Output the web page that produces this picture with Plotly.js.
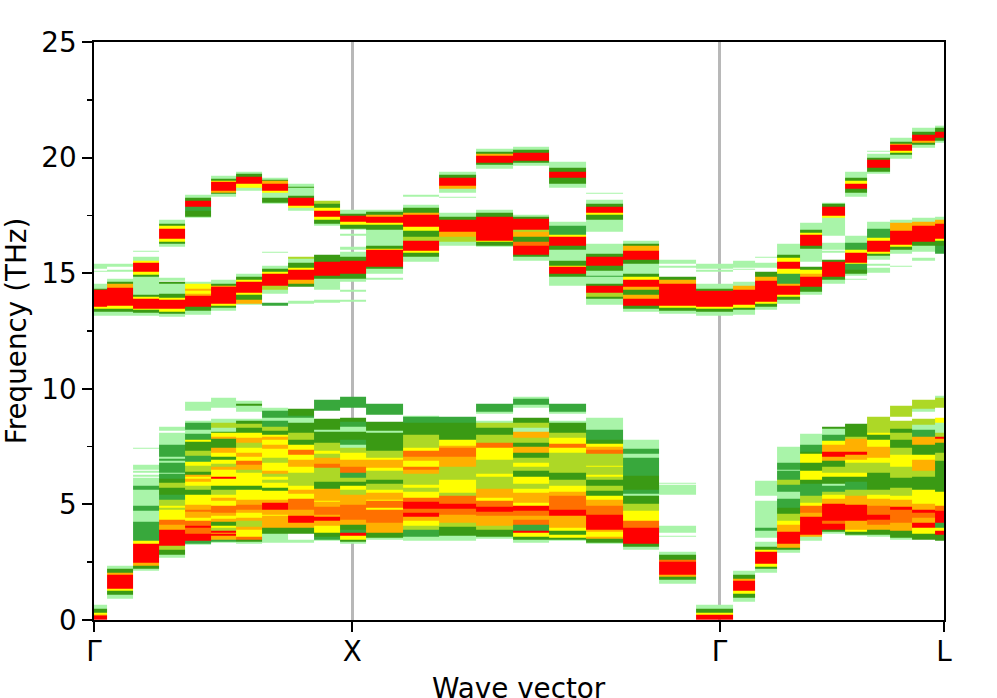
<!DOCTYPE html>
<html>
<head>
<meta charset="utf-8">
<script src="https://cdn.plot.ly/plotly-3.0.1.min.js"></script>
<style>body{margin:0;background:#fff}</style>
</head>
<body>
<div id="chart" style="width:997px;height:698px"></div>
<script>
// weight classes of the unfolded bands, weakest to strongest
const _ = null, L = 1, G = 2, D = 3, O = 4, Y = 5, A = 6, N = 7, R = 8;
const levelColors = ['#a9f4a9', '#38a83c', '#3a9a14', '#add826', '#ffff00', '#ffb000', '#ff7000', '#ff0000'];

// edges of the q-point columns along the path
const qEdges = [-0.05, 0.05, 0.15, 0.25, 0.35, 0.45, 0.55, 0.65, 0.75, 0.85, 0.95, 1.05,
  1.1918, 1.3332, 1.4746, 1.616, 1.7575, 1.8989, 2.0403, 2.1817, 2.3231, 2.4645,
  2.5512, 2.6378, 2.7244, 2.811, 2.8976, 2.9842, 3.0708, 3.1574, 3.244, 3.3306];
const tickPos = [0, 0.997, 2.4142, 3.2802];
const tickText = ['Γ', 'X', 'Γ', 'L'];

// each column: frequency, class, frequency, class ... from top to bottom (THz)
const col00 = [15.42,L,15.19,_,15.13,L,15.06,_,14.55,L,14.34,D,14.27,R,13.55,Y,13.48,D,13.33,L,13.16,_,0.66,L,0.5,D,0.32,Y,0.24,N,0.17,R,0];
const col01 = [15.42,L,15.3,_,15.16,L,15.06,_,14.77,L,14.63,D,14.53,A,14.38,R,13.58,Y,13.48,D,13.33,L,13.16,_,2.34,L,2.2,D,2.03,A,1.95,R,1.34,Y,1.28,D,1.08,L,0.93];
const col02 = [15.99,L,15.92,_,15.7,L,15.56,D,15.52,Y,15.45,R,15.06,Y,14.94,D,14.84,L,14.05,D,13.98,Y,13.91,R,13.48,Y,13.41,D,13.29,L,13.15,_,7.46,L,7.39,_,6.72,L,6.5,_,6.47,L,6.39,_,6.29,L,6.22,_,6.15,L,5.83,G,5.62,L,4.93,G,4.74,L,4.57,_,4.54,L,4.25,G,3.45,Y,3.28,R,2.46,A,2.37,D,2.24,L,2.14];
const col03 = [17.31,L,17.14,D,17.05,Y,16.93,R,16.49,Y,16.35,D,16.28,L,16.13,_,14.81,L,14.67,_,14.63,D,14.56,L,14.1,D,13.96,Y,13.86,R,13.45,Y,13.33,D,13.23,L,13.12,_,8.38,L,8.2,_,8.09,L,7.59,G,7.05,L,6.99,G,6.87,L,6.82,G,6.39,L,6.34,G,6.12,D,5.96,O,5.73,D,5.4,G,5.19,O,4.96,Y,4.85,O,4.78,Y,4.61,Y,4.35,N,4.14,A,3.89,R,3.2,O,3.06,D,2.84,L,2.7];
const col04 = [18.39,L,18.26,D,18.12,R,17.89,G,17.72,D,17.46,L,17.39,_,14.63,L,14.53,Y,14.34,A,14.25,Y,14.1,A,14.01,R,13.55,D,13.38,L,13.2,_,9.45,L,9.07,_,8.63,L,8.52,G,8.23,L,8.06,G,7.8,Y,7.73,D,7.34,O,7.11,G,6.84,Y,6.68,O,6.42,D,6.29,A,6.22,Y,6.1,A,6.0,Y,5.82,O,5.65,D,5.43,Y,5,A,4.78,N,4.67,A,4.43,Y,4.28,N,4.07,R,4,N,3.75,R,3.42,G,3.32,L,3.25];
const col05 = [19.2,L,19.08,D,19.01,Y,18.94,R,18.58,A,18.49,D,18.43,L,18.33,_,14.73,L,14.55,D,14.47,A,14.41,R,13.69,Y,13.6,D,13.5,L,13.36,_,9.6,L,9.17,_,8.69,L,8.55,O,8.33,L,8.16,D,8.09,Y,7.92,A,7.83,D,7.44,A,7.23,Y,7.05,D,6.94,Y,6.75,O,6.62,A,6.48,Y,6.22,R,6.12,Y,5.79,D,5.65,O,5.43,Y,5.29,A,5.14,Y,4.93,N,4.64,A,4.53,Y,4.38,A,4.24,D,4.1,Y,4,O,3.85,R,3.78,A,3.72,R,3.64,A,3.47,G,3.4,L,3.33];
const col06 = [19.41,L,19.3,D,19.18,R,18.87,Y,18.72,L,18.55,_,14.99,L,14.84,D,14.73,Y,14.63,R,14.15,Y,14.05,D,13.84,A,13.67,L,13.62,_,9.5,L,9.35,D,9.27,L,9,_,8.69,L,8.6,D,8.48,O,8.3,D,8.09,Y,7.87,A,7.66,O,7.44,Y,7.23,A,7.05,Y,6.87,N,6.72,A,6.51,O,6.36,Y,5.79,D,5.65,Y,5.22,A,5,N,4.78,A,4.64,Y,4.43,A,4.28,O,4.02,A,3.92,Y,3.6,N,3.46,D,3.39,L,3.32];
const col07 = [19.15,L,19.03,D,18.98,A,18.89,R,18.58,Y,18.49,L,18.25,D,18.03,L,18,_,15.95,L,15.88,_,15.33,L,15.2,D,15.06,Y,14.96,R,14.44,O,14.27,L,14.12,_,13.72,G,13.6,_,9.17,L,9.07,G,8.74,L,8.62,G,8.38,O,8.2,D,8.02,Y,7.92,A,7.8,Y,7.59,A,7.41,Y,7,O,6.8,Y,6.44,A,6.34,O,6.19,Y,6.08,O,5.93,Y,5.72,D,5.6,Y,5.22,A,5.07,R,4.78,A,4.57,Y,4.5,A,3.99,D,3.75,L,3.52,_,3.5,L,3.33];
const col08 = [18.89,L,18.75,D,18.69,L,18.36,D,18.25,R,17.93,Y,17.82,L,17.72,_,15.72,O,15.62,L,15.47,D,15.26,Y,15.16,R,14.73,A,14.55,D,14.41,_,13.79,L,13.69,_,9.14,D,8.84,G,8.74,L,8.55,D,8.09,O,7.8,D,7.59,Y,7.37,N,7.16,Y,6.94,A,6.62,Y,6.36,O,5.82,Y,5.65,A,5.45,Y,5.24,N,4.78,A,4.5,R,4.21,A,3.99,D,3.75,_,3.46,L,3.35];
const col09 = [18.15,O,18,D,17.85,Y,17.72,R,17.43,Y,17.31,D,17.14,L,17.04,_,15.8,D,15.49,R,14.91,D,14.77,L,14.27,_,13.84,L,13.74,_,9.53,G,9.07,_,8.69,D,8.23,L,8.16,D,7.66,O,7.34,Y,7.2,O,7.01,A,6.77,N,6.58,O,6,D,5.68,A,5.16,Y,5.1,A,4.9,N,4.57,A,4.47,R,4.28,A,4.07,Y,3.78,D,3.6,G,3.49,L,3.45];
const col10 = [17.74,L,17.57,D,17.5,R,17.24,Y,17.11,D,16.93,L,16.9,_,16.71,L,16.64,_,16.13,L,16.03,_,15.92,L,15.7,D,15.56,R,14.96,D,14.77,L,14.63,_,14.3,L,14.2,_,13.84,L,13.75,_,9.64,G,9.17,_,8.74,D,8.59,G,8.38,L,8.16,D,7.8,G,7.59,L,7.44,O,7.23,Y,6.94,A,6.65,N,6.39,G,6.15,O,5.97,D,5.79,Y,5.65,O,5.43,A,5,N,4.35,A,4.14,D,3.92,G,3.78,R,3.64,Y,3.49,D,3.38,L,3.32];
const col11 = [17.74,L,17.64,D,17.54,A,17.46,R,17.17,Y,17.1,D,16.9,L,16.21,D,16.06,Y,16.03,R,15.3,D,15.2,L,14.99,_,14.81,L,14.74,_,9.35,G,8.88,_,8.56,D,8.19,L,8.09,D,7.34,O,7.01,Y,6.94,A,6.58,Y,6.44,O,6.08,D,5.89,O,5.65,Y,5.5,A,5.22,Y,5.14,N,4.86,Y,4.76,N,4.5,N,4.21,A,3.78,D,3.56,L,3.46];
const col12 = [18.38,L,18.3,_,17.95,L,17.83,D,17.62,A,17.54,R,17,Y,16.85,D,16.59,O,16.42,R,15.99,Y,15.89,D,15.7,L,15.49,_,8.84,L,8.78,G,8.52,D,8.02,O,7.44,Y,7.34,N,7.05,A,6.87,Y,6.62,N,6.51,A,6.34,O,5.86,Y,5.72,O,5.57,Y,5.29,N,5.11,R,4.81,N,4.64,R,4.47,A,4.28,Y,4.07,O,3.92,G,3.61,L,3.45];
const col13 = [19.37,L,19.25,D,19.15,R,18.79,A,18.65,L,18.48,_,18.33,L,18.25,_,17.62,L,17.46,D,17.31,R,16.78,A,16.57,O,16.35,L,16.18,_,8.81,G,8.52,D,7.8,Y,7.56,A,7.44,N,7.05,A,6.65,O,6.08,Y,5.5,O,5.36,N,5.04,R,4.81,N,4.57,A,4.21,O,4.04,D,3.66,L,3.45];
const col14 = [20.37,L,20.27,D,20.16,A,20.09,R,19.8,D,19.68,L,19.51,_,17.76,L,17.62,D,17.46,R,16.42,Y,16.35,D,16.21,L,16.14,_,9.35,G,9.02,L,8.91,_,8.63,L,8.52,O,8.3,D,8.02,O,7.66,N,7.44,Y,6.94,O,6.34,Y,6.19,O,5.68,A,5.29,Y,5.14,N,4.9,R,4.67,N,4.5,A,4.07,O,3.92,D,3.6,L,3.5];
const col15 = [20.49,L,20.34,D,20.23,R,19.87,D,19.76,L,19.63,_,17.53,L,17.43,D,17.34,R,16.88,O,16.78,A,16.59,D,16.35,N,16.21,R,15.82,D,15.7,L,15.56,_,9.64,L,9.57,G,9.31,L,9.2,_,8.74,D,8.52,O,8.33,L,8.16,A,7.87,O,7.66,D,7.51,A,7.23,D,7.01,O,6.8,Y,6.65,O,6.44,D,6.22,Y,5.9,O,5.68,Y,5.5,A,5.07,Y,4.93,R,4.71,N,4.5,A,4.35,N,4.11,G,3.85,R,3.78,Y,3.6,D,3.49,L,3.35];
const col16 = [19.84,L,19.55,D,19.41,R,19.11,D,18.89,L,18.72,_,17.21,L,17.04,G,16.67,Y,16.57,R,16.21,D,16.03,L,15.52,D,15.34,Y,15.27,R,14.99,D,14.84,L,14.45,_,9.35,G,9.02,L,8.91,_,8.63,L,8.52,D,8.09,O,7.87,Y,7.63,N,7.44,Y,7.25,O,6.36,D,6.05,O,5.79,Y,5.57,A,5.36,N,4.79,R,4.5,A,3.99,Y,3.85,D,3.7,Y,3.56,D,3.49,L,3.45];
const col17 = [18.49,L,18.42,_,18.19,L,18,D,17.86,R,17.61,Y,17.54,D,17.33,L,16.78,_,16.28,L,15.85,D,15.7,R,15.34,D,15.09,L,14.89,G,14.84,L,14.55,D,14.44,R,14.15,O,13.97,D,13.9,L,13.62,_,8.76,L,8.23,G,7.8,D,7.63,Y,7.48,A,7.37,N,7.2,O,6.68,Y,6.62,O,6.29,Y,6.19,O,6.08,D,5.82,O,5.6,D,5.39,Y,5.22,A,4.93,N,4.57,R,3.92,A,3.81,Y,3.6,A,3.52,D,3.35,L,3.28];
const col18 = [16.42,L,16.28,D,16.17,A,15.99,R,15.59,D,15.42,L,14.96,D,14.87,Y,14.7,R,14.41,A,14.27,D,14.05,A,13.91,R,13.59,D,13.48,L,13.33,_,7.8,L,7.4,G,7.2,L,7.03,G,6.25,D,5.65,G,5.47,L,5.36,D,5.04,O,4.74,Y,4.31,N,3.99,R,3.28,D,3.16,L,3.02];
const col19 = [15.59,L,15.42,_,15.32,L,15.26,_,14.87,D,14.7,A,14.55,R,13.58,Y,13.51,D,13.36,L,13.23,_,5.94,L,5.89,_,5.85,L,5.4,_,4.09,L,3.78,_,3.64,L,3.59,_,2.96,L,2.82,D,2.63,N,2.54,R,1.98,A,1.88,D,1.74,L,1.59];
const col20 = [15.42,L,15.2,_,15.16,L,15.06,_,14.55,L,14.34,D,14.24,R,13.55,Y,13.48,D,13.33,L,13.15,_,0.66,L,0.47,D,0.33,Y,0.23,R,0];
const col21 = [15.52,L,15.24,_,15.2,L,15.16,_,14.63,L,14.44,A,14.27,R,13.62,Y,13.52,D,13.41,L,13.19,_,2.13,L,1.95,D,1.8,A,1.7,R,1.26,Y,1.12,D,0.98,L,0.79];
const col22 = [15.73,L,15.69,_,15.46,L,15.23,_,15.06,D,14.84,A,14.66,R,13.76,Y,13.66,D,13.55,L,13.41,_,6.03,L,5.36,_,5.17,L,3.99,G,3.88,L,3.58,_,3.38,L,3.18,D,3.04,Y,2.95,R,2.44,Y,2.31,D,2.2,L,2.03];
const col23 = [16.28,L,15.78,D,15.66,Y,15.49,R,15.2,Y,14.99,G,14.55,A,14.45,R,14.05,Y,13.98,D,13.84,L,13.66,_,7.51,L,6.8,G,6.51,L,6.44,G,6.05,O,5.87,G,5.53,L,5.26,G,4.86,D,4.61,O,4.31,Y,4.14,A,3.82,R,3.28,A,3.14,D,3.04,L,2.92];
const col24 = [17.18,L,16.88,D,16.74,Y,16.68,R,16.21,D,16.06,L,15.49,_,15.27,D,15.16,Y,14.96,A,14.84,R,14.41,D,14.22,L,14.05,_,8.06,L,7.59,G,7.3,D,7.2,Y,6.82,D,6.44,Y,6.08,D,5.9,G,5.36,O,5.07,Y,4.93,N,4.64,A,4.47,R,3.71,A,3.61,L,3.42];
const col25 = [18.07,L,18,D,17.86,R,17.5,Y,17.39,L,16.64,_,16.31,L,16.02,_,15.96,L,15.89,_,15.57,D,15.49,R,14.87,D,14.7,L,14.53,_,8.38,D,8.27,L,8.02,G,7.76,Y,7.59,A,7.3,R,7.05,A,6.91,D,6.62,O,6.39,Y,6.18,D,5.9,L,5.79,G,5.55,O,5.41,Y,5.25,A,5.05,R,4.29,N,4.18,R,3.89,D,3.81,L,3.75];
const col26 = [19.41,L,19.11,D,19.01,Y,18.89,R,18.65,D,18.48,L,18.33,_,16.64,L,16.32,G,16.02,Y,15.89,R,15.45,Y,15.39,G,15.16,D,14.99,L,14.89,_,14.76,L,14.7,_,8.5,D,7.95,O,7.83,A,7.3,R,7.15,A,6.94,Y,6.8,O,6.36,Y,6.19,D,6,G,5.62,O,5.39,A,5,R,4.28,A,3.92,Y,3.82,D,3.7,L,3.63];
const col27 = [20.3,L,20.24,_,20.16,L,20.01,D,19.91,R,19.55,D,19.4,L,19.3,_,17.24,L,16.93,G,16.52,Y,16.42,R,15.92,Y,15.85,D,15.75,L,15.57,_,15.4,L,15.33,_,15.24,L,15.01,_,8.81,O,8.09,Y,8.02,D,7.8,Y,7.51,A,7.01,Y,6.8,O,6.36,D,5.65,O,5.43,Y,5.25,A,4.93,N,4.57,R,4.35,N,4.14,A,3.92,D,3.7,L,3.6];
const col28 = [20.85,L,20.7,D,20.61,A,20.55,R,20.3,Y,20.23,D,20.13,L,19.94,_,17.33,L,17.17,A,16.85,R,16.25,Y,16.14,D,16.02,L,15.85,_,15.34,L,15.27,_,9.27,O,8.78,_,8.63,O,8.27,D,8.1,O,7.8,D,7.44,O,7.16,Y,6.65,O,6.15,D,5.72,O,5.36,Y,5.22,A,4.9,R,4.78,N,4.21,A,3.85,D,3.56,L,3.49];
const col29 = [21.28,L,21.12,D,20.99,R,20.73,A,20.63,D,20.55,L,20.45,_,17.4,L,17.21,A,17.07,R,16.35,D,16.21,L,15.95,_,15.68,L,15.56,_,9.55,O,9.12,L,9,_,8.69,O,8.45,L,8.23,G,7.92,A,7.59,D,7.16,Y,6.94,A,6.44,O,6.19,D,5.65,Y,5.04,A,4.78,R,4.64,N,4.43,A,4.21,R,3.99,Y,3.75,D,3.49];
const col30 = [21.38,L,21.28,D,21.14,R,20.88,D,20.73,L,20.63,_,17.46,L,17.31,A,17.14,R,16.49,Y,16.42,D,16.21,G,15.85,_,9.7,L,9.6,O,9.17,_,8.74,Y,8.52,L,8.12,O,7.92,R,7.83,A,7.66,D,7.23,O,6.87,D,5.57,Y,4.93,N,4.71,R,4.21,G,3.99,Y,3.85,R,3.7,D,3.42];

const columns = [col00, col01, col02, col03, col04, col05, col06, col07, col08, col09, col10,
  col11, col12, col13, col14, col15, col16, col17, col18, col19, col20,
  col21, col22, col23, col24, col25, col26, col27, col28, col29, col30];

// every stop of every column becomes a row edge of the heatmap
var stops = new Set();
columns.forEach(function (c) {
  for (var i = 0; i < c.length; i += 2) stops.add(c[i]);
});
var yEdges = Array.from(stops).sort(function (a, b) { return a - b; });

var zRows = [];
for (var r = 0; r < yEdges.length - 1; r++) {
  var mid = (yEdges[r] + yEdges[r + 1]) / 2;
  var row = columns.map(function (c) {
    for (var i = 0; i + 2 < c.length; i += 2) {
      if (mid < c[i] && mid > c[i + 2]) return c[i + 1];
    }
    return null;
  });
  zRows.push(row);
}

var scale = levelColors.map(function (col, i) {
  return [i / (levelColors.length - 1), col];
});

var data = [{
  type: 'heatmap',
  x: qEdges,
  y: yEdges,
  z: zRows,
  zmin: 1,
  zmax: 8,
  zsmooth: false,
  colorscale: scale,
  showscale: false,
  hoverongaps: false
}];

var fontName = '"DejaVu Sans", sans-serif';
var layout = {
  width: 997,
  height: 698,
  margin: {l: 94, r: 53, t: 42, b: 78},
  paper_bgcolor: '#fff',
  plot_bgcolor: '#fff',
  font: {family: fontName, size: 27.8, color: '#000'},
  showlegend: false,
  xaxis: {
    range: [0, 3.2802],
    tickmode: 'array',
    tickvals: tickPos,
    ticktext: tickText,
    ticks: 'outside',
    ticklen: 9.7,
    tickwidth: 2,
    tickcolor: '#000',
    ticklabelstandoff: -4,
    showline: true,
    linecolor: '#000',
    linewidth: 2,
    mirror: true,
    showgrid: true,
    gridcolor: '#b8b8b8',
    gridwidth: 3,
    zeroline: false
  },
  yaxis: {
    range: [0, 25],
    tickmode: 'linear',
    tick0: 0,
    dtick: 5,
    ticks: 'outside',
    ticklen: 9.7,
    tickwidth: 2,
    tickcolor: '#000',
    showline: true,
    linecolor: '#000',
    linewidth: 2,
    mirror: true,
    showgrid: false,
    zeroline: false,
    minor: {dtick: 2.5, ticks: 'outside', ticklen: 5.5, tickwidth: 1.7, tickcolor: '#000', showgrid: false},
    title: {text: 'Frequency (THz)', font: {size: 27.8}, standoff: 12}
  },
  // axis title would sit too high with the fixed margin, so it is placed by hand
  annotations: [{
    text: 'Wave vector',
    xref: 'paper',
    yref: 'paper',
    x: 0.5,
    y: 0,
    xanchor: 'center',
    yanchor: 'middle',
    yshift: -68,
    showarrow: false,
    font: {size: 27.8}
  }]
};

Plotly.newPlot('chart', data, layout, {displayModeBar: false, staticPlot: true});
</script>
</body>
</html>
